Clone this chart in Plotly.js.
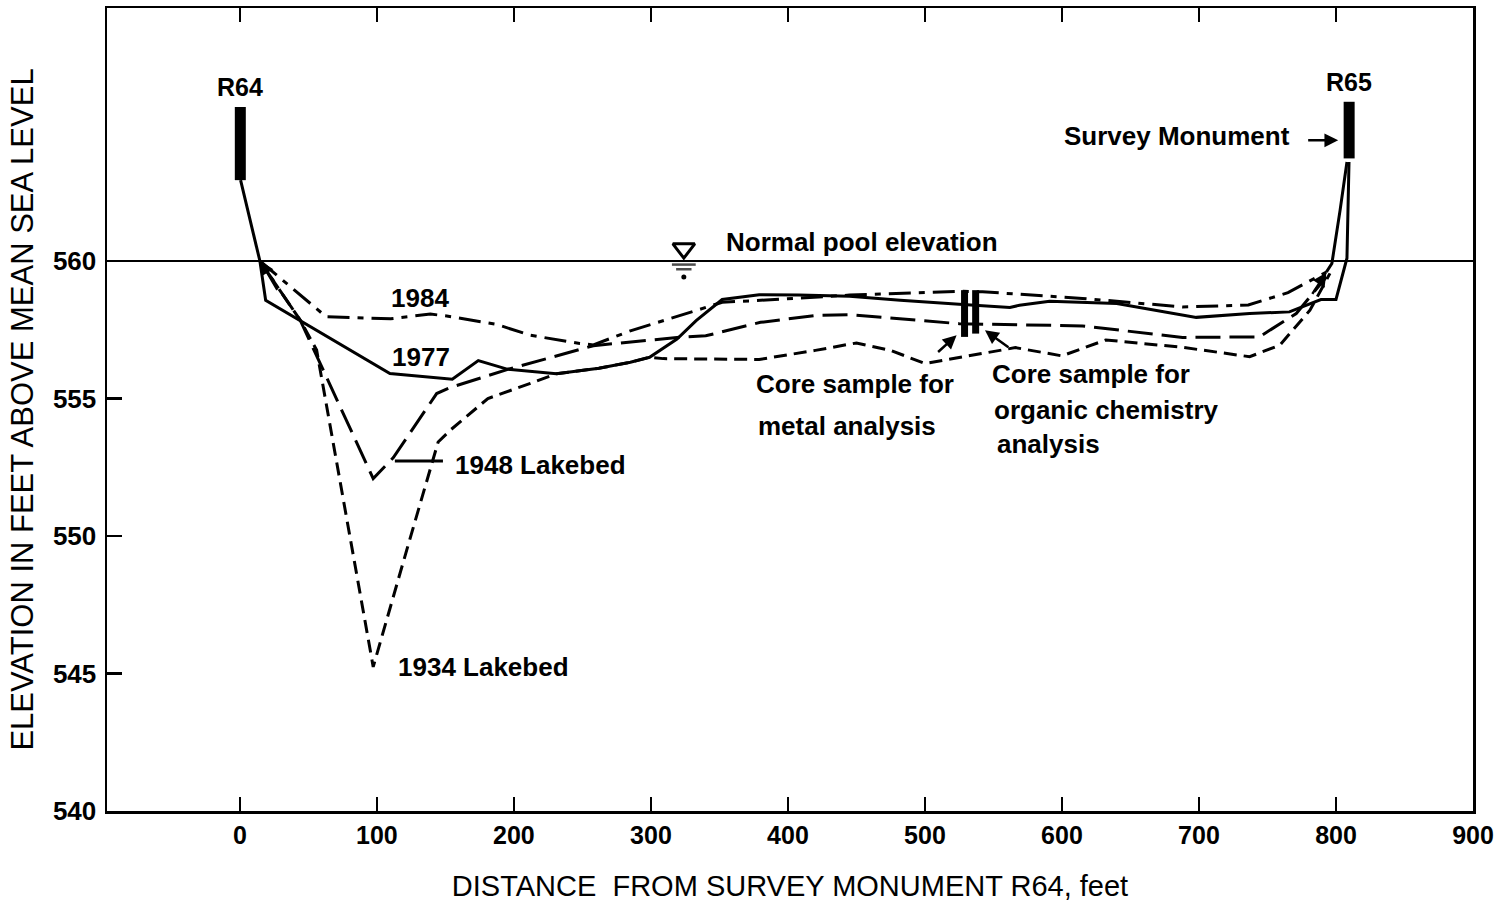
<!DOCTYPE html>
<html><head><meta charset="utf-8">
<script src="https://cdn.plot.ly/plotly-3.0.1.min.js"></script>
<style>html,body{margin:0;padding:0;background:#fff}#chart{width:1503px;height:908px}</style>
</head><body><div id="chart"></div>
<script>
// ---- data (feet) ----
const x1977 = [0.5, 14.6, 18.8, 109.5, 155, 174, 195, 231, 262, 285, 299, 319, 333, 352, 379, 408, 445, 482, 525, 562, 569, 591, 640, 698, 737, 766, 789, 800, 808, 809.5];
const y1977 = [562.94, 560.0, 558.57, 555.91, 555.7, 556.38, 556.07, 555.9, 556.1, 556.32, 556.5, 557.16, 557.83, 558.6, 558.77, 558.76, 558.72, 558.57, 558.43, 558.31, 558.39, 558.54, 558.45, 557.95, 558.09, 558.15, 558.6, 558.6, 560.1, 563.6];

const x1984 = [14.6, 63, 110, 139, 151, 187, 212, 248, 258, 285, 333, 352, 380, 445, 525, 542, 615, 688, 736, 765, 793];
const y1984 = [560.0, 557.97, 557.9, 558.07, 558.0, 557.7, 557.3, 557.0, 556.95, 557.46, 558.2, 558.5, 558.57, 558.76, 558.9, 558.88, 558.64, 558.33, 558.4, 558.85, 559.6];

const x1948 = [14.6, 44, 97.3, 112, 143.6, 153.6, 195, 258, 319, 340, 380, 420, 445, 480, 525, 615, 688, 744, 771, 793];
const y1948 = [560.0, 557.85, 552.09, 552.85, 555.18, 555.4, 556.05, 556.92, 557.22, 557.28, 557.77, 558.02, 558.05, 557.9, 557.72, 557.64, 557.22, 557.24, 558.09, 559.42];

const x1934 = [14.6, 44, 56, 97.3, 121.7, 144.7, 153.6, 181, 212, 231, 262, 285, 299, 309, 379, 420, 450, 475, 500, 525, 566, 600, 632, 688, 737, 759, 781, 795.6];
const y1934 = [560.0, 557.85, 556.76, 545.24, 549.48, 553.42, 553.85, 555.0, 555.55, 555.9, 556.1, 556.32, 556.5, 556.45, 556.42, 556.75, 557.02, 556.75, 556.27, 556.5, 556.85, 556.55, 557.13, 556.86, 556.52, 556.94, 558.21, 559.55];

// tie line from survey ends up to monument R65
const xTie = [793, 797, 803, 808];
const yTie = [559.6, 559.91, 561.85, 563.6];

// survey monuments R64, R65
const monumentX = [0.3, 809.6];
const monumentTop = [565.6, 565.79];
const monumentBase = [562.94, 563.73];

// core samples (metal, organic)
const coreX = [528.9, 537.0];
const coreTop = [558.94, 558.94];
const coreBottom = [557.24, 557.36];

const poolElevation = 560;
const poolSymbolX = 324;

const xTicks = [0, 100, 200, 300, 400, 500, 600, 700, 800, 900];
const yTicks = [540, 545, 550, 555, 560];

// ---- drawing ----
const FONT = 'Liberation Sans, Arial, Helvetica, sans-serif';
function ln(x, y, dash, width) {
  return {type: 'scatter', mode: 'lines', x: x, y: y, hoverinfo: 'skip', showlegend: false,
          line: {color: '#000', width: width || 3, dash: dash || 'solid'}};
}
const traces = [];
traces.push(ln(x1977, y1977, 'solid', 3));
traces.push(ln(x1984, y1984, '22px,8px,6px,8px', 3));
traces.push(ln(x1948, y1948, '25px,9px', 3));
traces.push(ln(x1934, y1934, '13px,7px', 3));
traces.push(ln(xTie, yTie, 'solid', 3));
traces.push(ln([113.1, 148.2], [552.73, 552.73], 'solid', 3));
for (let i = 0; i < monumentX.length; i++) {
  traces.push(ln([monumentX[i], monumentX[i]], [monumentBase[i], monumentTop[i]], 'solid', 11));
}
for (let i = 0; i < coreX.length; i++) {
  traces.push(ln([coreX[i], coreX[i]], [coreBottom[i], coreTop[i]], 'solid', 7));
}
// normal pool symbol
traces.push({type: 'scatter', mode: 'markers', x: [poolSymbolX], y: [poolElevation + 0.45], hoverinfo: 'skip', showlegend: false,
  marker: {symbol: 'triangle-down-open', size: 19, color: '#000', line: {color: '#000', width: 3}}});
traces.push({type: 'scatter', mode: 'markers', x: [poolSymbolX, poolSymbolX], y: [poolElevation - 0.13, poolElevation - 0.3], hoverinfo: 'skip', showlegend: false,
  marker: {symbol: 'line-ew-open', size: [17, 11], color: '#000', line: {color: '#000', width: 2.5}}});
traces.push({type: 'scatter', mode: 'markers', x: [poolSymbolX], y: [poolElevation - 0.58], hoverinfo: 'skip', showlegend: false,
  marker: {symbol: 'circle', size: 5, color: '#000'}});

function txt(x, y, text, xanchor, size) {
  return {x: x, y: y, xref: 'x', yref: 'y', text: text, showarrow: false, xanchor: xanchor || 'center', yanchor: 'middle',
          font: {family: FONT, size: size || 26, color: '#000', weight: 'bold'}};
}
function arrow(x, y, ax, ay) {
  return {x: x, y: y, ax: ax, ay: ay, xref: 'x', yref: 'y', axref: 'x', ayref: 'y', text: '', showarrow: true,
          arrowhead: 2, arrowsize: 1.1, arrowwidth: 2.5, arrowcolor: '#000'};
}
const annotations = [
  txt(0, 566.32, 'R64', 'center', 25),
  txt(809.5, 566.5, 'R65', 'center', 25),
  txt(767.8, 564.54, 'Survey Monument', 'right'),
  txt(353.3, 560.68, 'Normal pool elevation', 'left'),
  txt(131.4, 558.65, '1984', 'center'),
  txt(132, 556.5, '1977', 'center'),
  txt(155.5, 552.57, '1948 Lakebed', 'left'),
  txt(113.9, 545.23, '1934 Lakebed', 'left'),
  txt(375.2, 555.52, 'Core sample for', 'left'),
  txt(377, 554.0, 'metal analysis', 'left'),
  txt(547.4, 555.89, 'Core sample for', 'left'),
  txt(548.8, 554.58, 'organic chemistry', 'left'),
  txt(551, 553.34, 'analysis', 'left'),
  arrow(15, 560, 28, 558.9),
  arrow(793, 559.58, 782, 558.75),
  arrow(801.6, 564.39, 778.6, 564.39),
  arrow(523.1, 557.3, 508.5, 556.64),
  arrow(543.8, 557.48, 562, 556.82)
];

const shapes = [
  {type: 'line', xref: 'paper', yref: 'y', x0: 0, x1: 1, y0: poolElevation, y1: poolElevation,
   line: {color: '#000', width: 1.8}}
];

const layout = {
  width: 1503, height: 908,
  margin: {l: 107, r: 30, t: 8, b: 97},
  paper_bgcolor: '#fff', plot_bgcolor: '#fff',
  showlegend: false,
  font: {family: FONT, color: '#000'},
  xaxis: {
    range: [-97, 900], tickmode: 'array', tickvals: xTicks, ticktext: xTicks.map(String),
    ticks: 'inside', ticklen: 14, tickwidth: 2.5, tickcolor: '#000',
    showline: true, linewidth: 2.5, linecolor: '#000', mirror: 'ticks',
    showgrid: false, zeroline: false,
    tickfont: {family: FONT, size: 25, weight: 'bold', color: '#000'},
    title: {text: 'DISTANCE  FROM SURVEY MONUMENT R64, feet', font: {family: FONT, size: 29, color: '#000'}, standoff: 28}
  },
  yaxis: {
    range: [540, 569.2], tickmode: 'array', tickvals: yTicks, ticktext: yTicks.map(String),
    ticks: 'inside', ticklen: 15, tickwidth: 2.5, tickcolor: '#000',
    showline: true, linewidth: 2.5, linecolor: '#000', mirror: true,
    showgrid: false, zeroline: false, ticklabelstandoff: 3,
    tickfont: {family: FONT, size: 26, weight: 'bold', color: '#000'},
    title: {text: 'ELEVATION IN FEET ABOVE MEAN SEA LEVEL', font: {family: FONT, size: 31, color: '#000'}, standoff: 10}
  },
  shapes: shapes,
  annotations: annotations
};

Plotly.newPlot('chart', traces, layout, {staticPlot: true, displayModeBar: false});
</script>
</body></html>
